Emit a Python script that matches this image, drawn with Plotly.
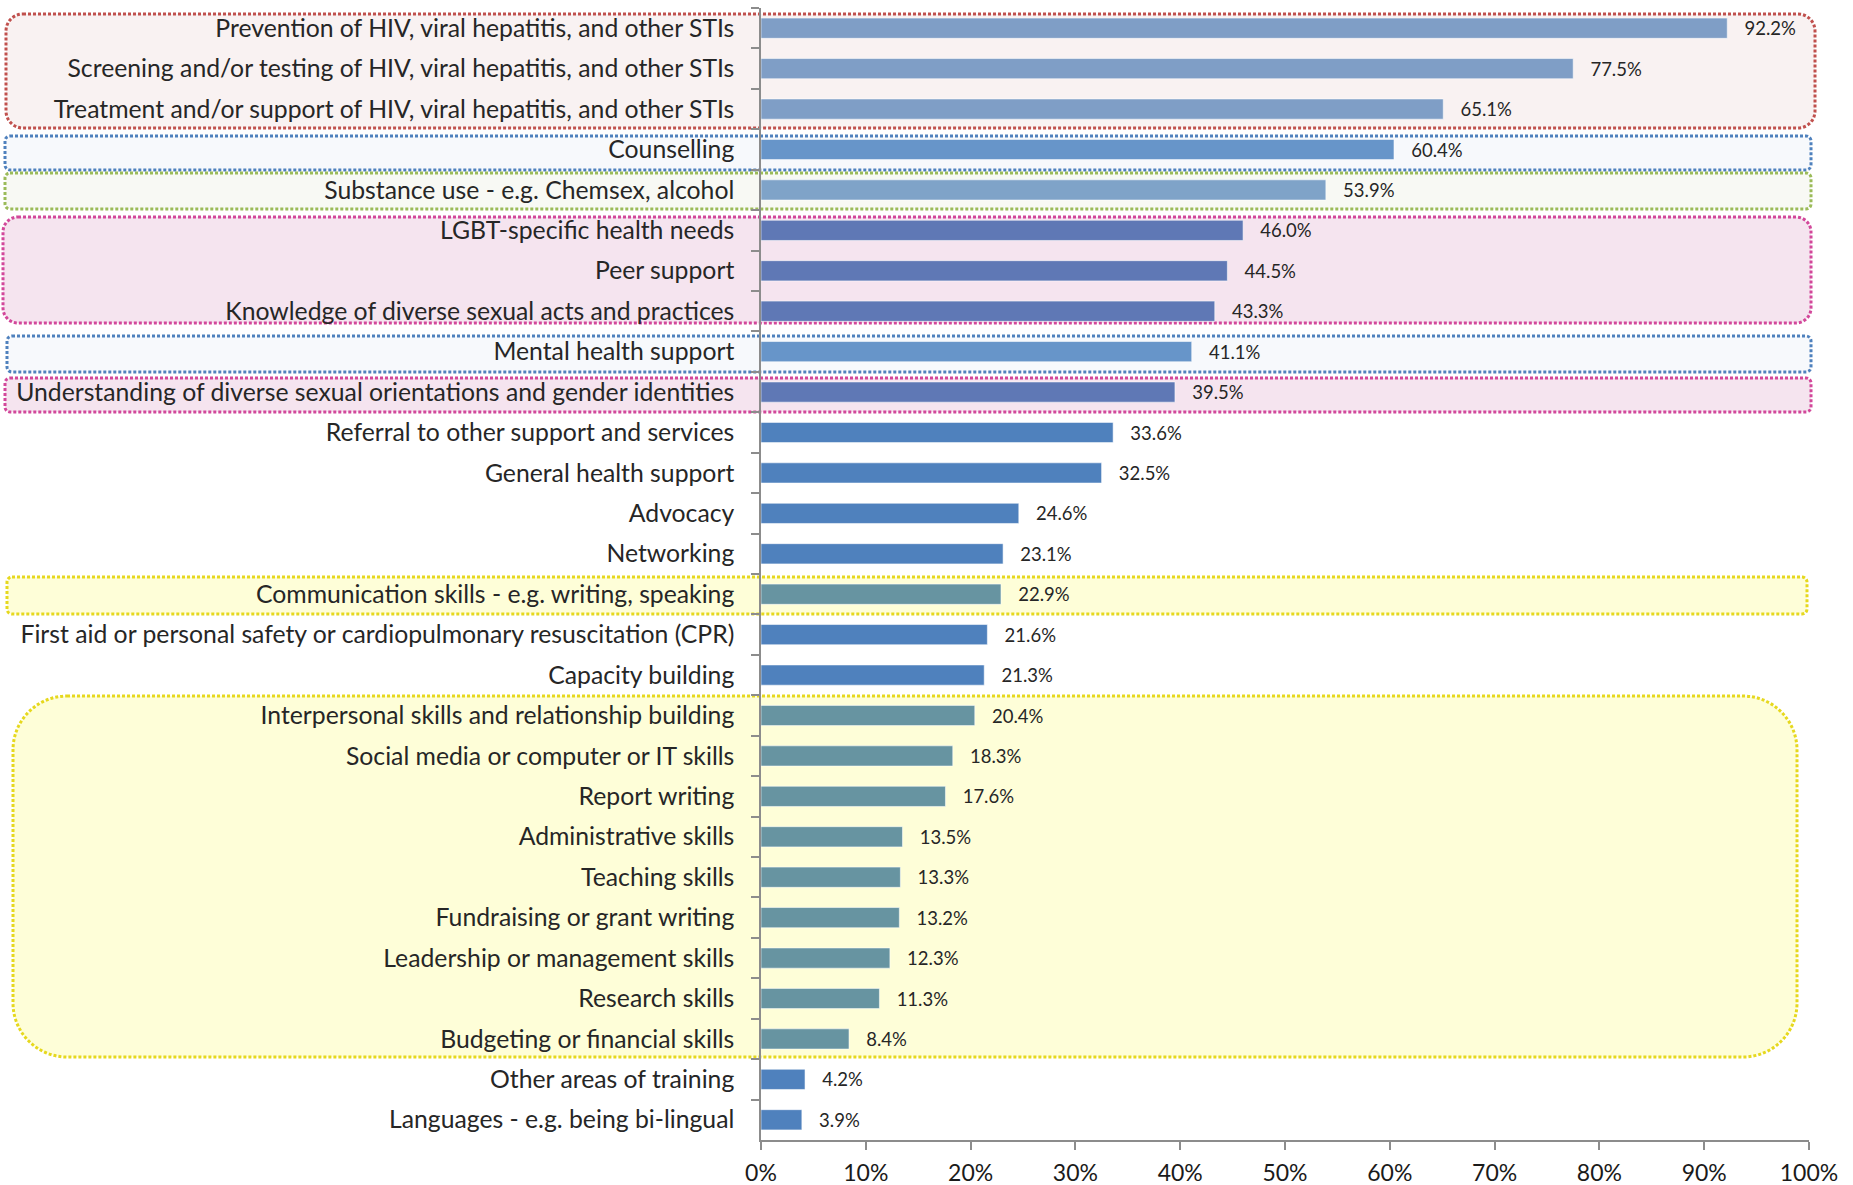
import plotly.graph_objects as go

categories = [
    "Prevention of HIV, viral hepatitis, and other STIs",
    "Screening and/or testing of HIV, viral hepatitis, and other STIs",
    "Treatment and/or support of HIV, viral hepatitis, and other STIs",
    "Counselling",
    "Substance use - e.g. Chemsex, alcohol",
    "LGBT-specific health needs",
    "Peer support",
    "Knowledge of diverse sexual acts and practices",
    "Mental health support",
    "Understanding of diverse sexual orientations and gender identities",
    "Referral to other support and services",
    "General health support",
    "Advocacy",
    "Networking",
    "Communication skills - e.g. writing, speaking",
    "First aid or personal safety or cardiopulmonary resuscitation (CPR)",
    "Capacity building",
    "Interpersonal skills and relationship building",
    "Social media or computer or IT skills",
    "Report writing",
    "Administrative skills",
    "Teaching skills",
    "Fundraising or grant writing",
    "Leadership or management skills",
    "Research skills",
    "Budgeting or financial skills",
    "Other areas of training",
    "Languages - e.g. being bi-lingual",
]

values = [92.2, 77.5, 65.1, 60.4, 53.9, 46.0, 44.5, 43.3, 41.1, 39.5,
          33.6, 32.5, 24.6, 23.1, 22.9, 21.6, 21.3, 20.4, 18.3, 17.6,
          13.5, 13.3, 13.2, 12.3, 11.3, 8.4, 4.2, 3.9]

groups = ["sti", "sti", "sti", "mental", "substance", "lgbt", "lgbt", "lgbt",
          "mental", "lgbt", "general", "general", "general", "general",
          "skills", "general", "general", "skills", "skills", "skills",
          "skills", "skills", "skills", "skills", "skills", "skills",
          "general", "general"]

group_colors = {
    "sti": "#7f9ec6",
    "mental": "#6795c9",
    "substance": "#7fa3c8",
    "lgbt": "#5f78b5",
    "general": "#4f81bd",
    "skills": "#6794a1",
}

x_ticks = [0, 10, 20, 30, 40, 50, 60, 70, 80, 90, 100]
x_tick_labels = [f"{t}%" for t in x_ticks]

# figure geometry (pixels)
FW, FH = 1853, 1185
L, R, T, B = 761, 44, 8, 45
PW, PH = FW - L - R, FH - T - B

# highlight boxes: (top_px, bottom_px, left_px, right_px, radius, line color, fill)
boxes = [
    (14, 128, 6, 1815, 17, "#c0504d", "#f9f2f2"),
    (136, 170, 5, 1811, 5, "#4f81bd", "#f7f9fc"),
    (173, 209, 5, 1811, 5, "#9bbb59", "#f8f9f4"),
    (217, 323, 3, 1811, 15, "#d2479a", "#f5e4ef"),
    (336, 372, 7, 1811, 5, "#4f81bd", "#f7f9fc"),
    (378, 412, 5, 1811, 5, "#d2479a", "#f5e4ef"),
    (577, 614, 7, 1807, 5, "#e6d81e", "#fefed8"),
    (696, 1057, 13, 1797, 54, "#e6d81e", "#fefed8"),
]


def to_paper(x, y):
    return (x - L) / PW, 1 - (y - T) / PH


def rounded_path(y0, y1, x0, x1, r):
    k = 0.5523 * r

    def P(x, y):
        px, py = to_paper(x, y)
        return f"{px:.5f},{py:.5f}"

    pts = [
        f"M {P(x0 + r, y0)}",
        f"L {P(x1 - r, y0)}",
        f"C {P(x1 - r + k, y0)} {P(x1, y0 + r - k)} {P(x1, y0 + r)}",
        f"L {P(x1, y1 - r)}",
        f"C {P(x1, y1 - r + k)} {P(x1 - r + k, y1)} {P(x1 - r, y1)}",
        f"L {P(x0 + r, y1)}",
        f"C {P(x0 + r - k, y1)} {P(x0, y1 - r + k)} {P(x0, y1 - r)}",
        f"L {P(x0, y0 + r)}",
        f"C {P(x0, y0 + r - k)} {P(x0 + r - k, y0)} {P(x0 + r, y0)}",
        "Z",
    ]
    return " ".join(pts)


shapes = []
for (y0, y1, x0, x1, r, lc, fc) in boxes:
    shapes.append(dict(
        type="path", xref="paper", yref="paper",
        path=rounded_path(y0, y1, x0, x1, r),
        fillcolor=fc, line=dict(color=lc, width=3, dash="3px,2px"),
        layer="below",
    ))

FONT = "Lato, Calibri, Carlito, sans-serif"

fig = go.Figure()
fig.add_trace(go.Bar(
    x=values,
    y=categories,
    orientation="h",
    marker=dict(color=[group_colors[g] for g in groups],
                line=dict(color="rgba(255,255,255,0.55)", width=1)),
    text=["\u00a0\u00a0\u00a0" + f"{v:.1f}%" for v in values],
    textposition="outside",
    textfont=dict(family=FONT, size=18.5, color="#262626"),
    cliponaxis=False,
    constraintext="none",
    hoverinfo="skip",
))

fig.update_layout(
    width=FW, height=FH,
    margin=dict(l=L, r=R, t=T, b=B, autoexpand=False),
    paper_bgcolor="white",
    plot_bgcolor="rgba(0,0,0,0)",
    bargap=0.5,
    showlegend=False,
    shapes=shapes,
    font=dict(family=FONT, color="#262626"),
)

fig.update_xaxes(
    range=[0, 100], tickvals=x_ticks, ticktext=x_tick_labels,
    showgrid=False, zeroline=False,
    showline=True, linecolor="#8c8c8c", linewidth=1.5,
    ticks="outside", ticklen=8, tickcolor="#8c8c8c", tickwidth=1.5,
    tickfont=dict(family=FONT, size=23, color="#1a1a1a"),
    ticklabelstandoff=4,
)

fig.update_yaxes(
    categoryorder="array", categoryarray=categories,
    autorange="reversed",
    showgrid=False, zeroline=False,
    showline=True, linecolor="#8c8c8c", linewidth=1.5,
    ticks="outside", ticklen=8, tickcolor="#8c8c8c", tickwidth=1.5,
    tickson="boundaries",
    tickfont=dict(family=FONT, size=24.75, color="#262626"),
    ticklabelstandoff=20,
)

fig.write_html(
    "out.html",
    config={"displayModeBar": False},
    post_script="document.body.style.margin='0';document.body.style.overflow='hidden';",
)
